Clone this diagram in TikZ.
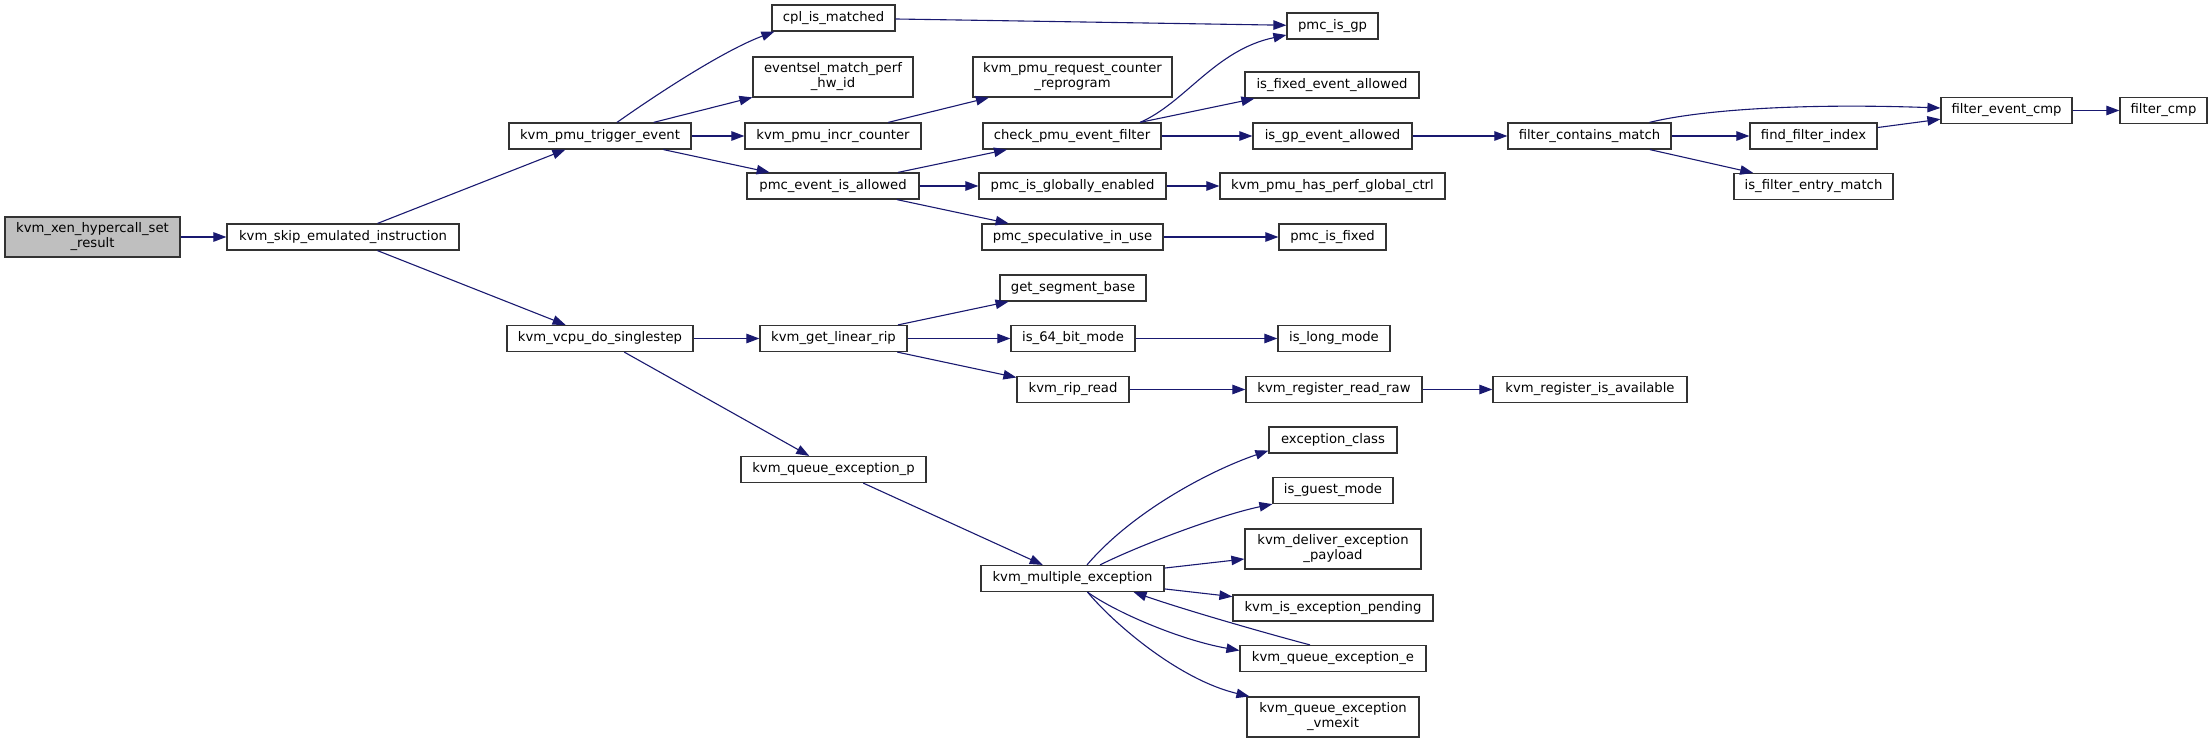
\documentclass[tikz,border=0pt]{standalone}
\usepackage{fontspec}
\setmainfont{DejaVu Sans}
\usetikzlibrary{arrows.meta,calc}
\definecolor{edgecol}{HTML}{191970}
\definecolor{rootfill}{HTML}{BFBFBF}
\begin{document}
\begin{tikzpicture}[x=1pt,y=-1pt,
  box/.style={draw=black!80, line width=1.2pt, fill=white, inner sep=0pt, minimum height=26pt,
    font=\fontsize{13.2}{15}\selectfont, align=center},
  boxtwo/.style={box, minimum height=40pt},
  edge/.style={draw=edgecol, line width=1.1pt, -{Triangle[length=13pt,width=9.5pt]}}]
\useasboundingbox (0,0) rectangle (2212,743);
% column 0/1
\node[boxtwo, fill=rootfill, minimum width=175pt] (xen) at (92.5,237) {kvm\_xen\_hypercall\_set\\\_result};
\node[box, minimum width=232pt] (skip) at (343,237) {kvm\_skip\_emulated\_instruction};
% column 2
\node[box, minimum width=182pt] (trig) at (600,136) {kvm\_pmu\_trigger\_event};
\node[box, minimum width=186pt] (vcpu) at (600,338.5) {kvm\_vcpu\_do\_singlestep};
% column 3
\node[box, minimum width=123pt] (cpl) at (833.5,18) {cpl\_is\_matched};
\node[boxtwo, minimum width=160pt] (evsel) at (833,77) {eventsel\_match\_perf\\\_hw\_id};
\node[box, minimum width=176pt] (incr) at (833,136) {kvm\_pmu\_incr\_counter};
\node[box, minimum width=172pt] (allowed) at (833,186) {pmc\_event\_is\_allowed};
\node[box, minimum width=147pt] (linrip) at (833.5,338.5) {kvm\_get\_linear\_rip};
\node[box, minimum width=185pt] (qep) at (833.5,469.5) {kvm\_queue\_exception\_p};
% column 4
\node[boxtwo, minimum width=199pt] (reprog) at (1072.5,77) {kvm\_pmu\_request\_counter\\\_reprogram};
\node[box, minimum width=178pt] (check) at (1072,136) {check\_pmu\_event\_filter};
\node[box, minimum width=187pt] (globen) at (1072.5,186) {pmc\_is\_globally\_enabled};
\node[box, minimum width=181pt] (spec) at (1072.5,237) {pmc\_speculative\_in\_use};
\node[box, minimum width=146pt] (segbase) at (1073,288) {get\_segment\_base};
\node[box, minimum width=124pt] (isbit) at (1073,338.5) {is\_64\_bit\_mode};
\node[box, minimum width=112pt] (ripread) at (1073,389.5) {kvm\_rip\_read};
\node[box, minimum width=183pt] (multi) at (1072.5,578.5) {kvm\_multiple\_exception};
% column 5
\node[box, minimum width=91pt] (gp) at (1332.5,26) {pmc\_is\_gp};
\node[box, minimum width=174pt] (fixallowed) at (1332,85) {is\_fixed\_event\_allowed};
\node[box, minimum width=159pt] (gpallowed) at (1332.5,136) {is\_gp\_event\_allowed};
\node[box, minimum width=225pt] (hasglob) at (1332.5,186) {kvm\_pmu\_has\_perf\_global\_ctrl};
\node[box, minimum width=107pt] (isfixed) at (1332.5,237) {pmc\_is\_fixed};
\node[box, minimum width=112pt] (longmode) at (1334,338.5) {is\_long\_mode};
\node[box, minimum width=176pt] (regraw) at (1334,389.5) {kvm\_register\_read\_raw};
\node[box, minimum width=128pt] (exclass) at (1333,440) {exception\_class};
\node[box, minimum width=120pt] (guest) at (1333,490.5) {is\_guest\_mode};
\node[boxtwo, minimum width=176pt] (deliver) at (1333,549) {kvm\_deliver\_exception\\\_payload};
\node[box, minimum width=200pt] (pending) at (1333,608) {kvm\_is\_exception\_pending};
\node[box, minimum width=186pt] (qee) at (1333,658.5) {kvm\_queue\_exception\_e};
\node[boxtwo, minimum width=172pt] (vmexit) at (1333,717) {kvm\_queue\_exception\\\_vmexit};
% column 6
\node[box, minimum width=163pt] (filcont) at (1589.5,136) {filter\_contains\_match};
\node[box, minimum width=194pt] (regavail) at (1590,389.5) {kvm\_register\_is\_available};
% column 7
\node[box, minimum width=127pt] (findidx) at (1813.5,136) {find\_filter\_index};
\node[box, minimum width=159pt] (entrymatch) at (1813.5,186.5) {is\_filter\_entry\_match};
% column 8, 9
\node[box, minimum width=131pt] (fevcmp) at (2006.5,110.5) {filter\_event\_cmp};
\node[box, minimum width=87pt] (fcmp) at (2163.5,110.5) {filter\_cmp};

% edges
\draw[edge] (xen) -- (skip);
\draw[edge] (skip) -- (trig);
\draw[edge] (skip) -- (vcpu);
\draw[edge] ($(trig.north)+(17,0)$) .. controls (660,92) and (725,50) .. ($(cpl.south west)+(3,0)$);
\draw[edge] (trig) -- (evsel);
\draw[edge] (trig) -- (incr);
\draw[edge] (trig) -- (allowed);
\draw[edge] (cpl) -- (gp);
\draw[edge] (incr) -- (reprog);
\draw[edge] (allowed) -- (check);
\draw[edge] (allowed) -- (globen);
\draw[edge] (allowed) -- (spec);
\draw[edge] ($(check.north)+(68,0)$) .. controls (1185,103) and (1215,50) .. ($(gp.west)+(0,9)$);
\draw[edge] ($(check.north)+(68,0)$) -- ($(fixallowed.south west)+(10,0)$);
\draw[edge] (check) -- (gpallowed);
\draw[edge] (globen) -- (hasglob);
\draw[edge] (spec) -- (isfixed);
\draw[edge] (gpallowed) -- (filcont);
\draw[edge] ($(filcont.north)+(60,0)$) .. controls (1700,110) and (1800,103) .. ($(fevcmp.west)+(0,-2.5)$);
\draw[edge] (filcont) -- (findidx);
\draw[edge] (filcont) -- (entrymatch);
\draw[edge] (findidx) -- (fevcmp);
\draw[edge] (fevcmp) -- (fcmp);
\draw[edge] (vcpu) -- (linrip);
\draw[edge] (vcpu) -- (qep);
\draw[edge] (linrip) -- (segbase);
\draw[edge] (linrip) -- (isbit);
\draw[edge] (linrip) -- (ripread);
\draw[edge] (isbit) -- (longmode);
\draw[edge] (ripread) -- (regraw);
\draw[edge] (regraw) -- (regavail);
\draw[edge] (qep) -- (multi);
\draw[edge] ($(multi.north)+(14.5,0)$) .. controls (1132,512) and (1209,471) .. ($(exclass.south west)+(0,-3)$);
\draw[edge] ($(multi.north)+(27.5,0)$) .. controls (1140,545) and (1220,515) .. ($(guest.south west)+(0,0)$);
\draw[edge] (multi) -- (deliver);
\draw[edge] (multi) -- (pending);
\draw[edge] ($(multi.south)+(15,0)$) .. controls (1115,612) and (1180,640) .. ($(qee.west)+(0,-8)$);
\draw[edge] ($(qee.north)+(-23,0)$) .. controls (1265,633) and (1185,610) .. ($(multi.south east)+(-31,0)$);
\draw[edge] ($(multi.south)+(15,0)$) .. controls (1115,625) and (1180,680) .. ($(vmexit.north west)+(3,0)$);
\end{tikzpicture}
\end{document}
